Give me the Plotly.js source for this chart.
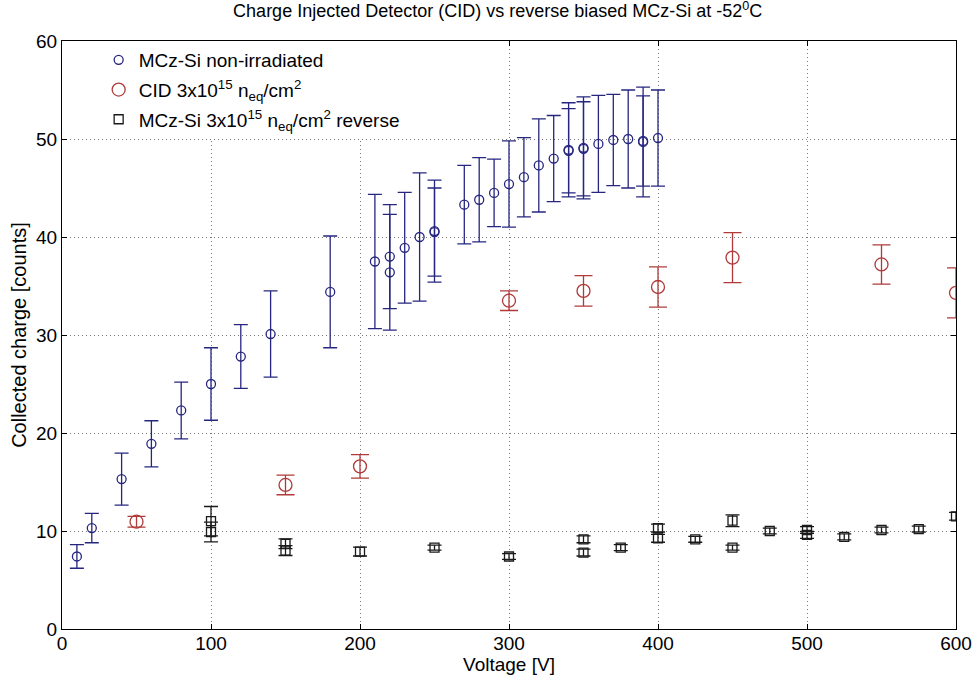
<!DOCTYPE html>
<html>
<head>
<meta charset="utf-8">
<script src="https://cdn.plot.ly/plotly-3.0.1.min.js"></script>
<style>html,body{margin:0;padding:0;background:#fff;}#chart{width:974px;height:682px;}</style>
</head>
<body>
<div id="chart"></div>
<script>
// MCz-Si non-irradiated
const blueV = [10,20,40,60,80,100,120,140,180,210,220,220,230,240,250,250,270,280,290,300,310,320,330,340,340,350,350,360,370,380,390,390,400];
const blueQ = [7.4,10.3,15.3,18.9,22.3,25.0,27.8,30.1,34.4,37.5,38.0,36.4,38.9,40.0,40.6,40.5,43.3,43.8,44.5,45.4,46.1,47.3,48.0,48.9,48.8,49.1,49.0,49.5,49.9,50.0,49.8,49.7,50.1];
const blueE = [1.2,1.5,2.65,2.35,2.9,3.7,3.25,4.4,5.7,6.85,5.3,5.9,5.65,6.55,5.2,4.5,4.0,4.3,3.45,4.4,4.05,4.75,4.4,4.8,4.3,5.2,4.8,4.95,4.65,5.0,4.6,5.6,4.9];
// CID 3x10^15
const redV = [50,150,200,300,350,400,450,550,600];
const redQ = [10.95,14.7,16.6,33.5,34.5,34.9,37.9,37.2,34.3];
const redE = [0.55,1.0,1.2,1.0,1.55,2.05,2.55,2.0,2.55];
// MCz-Si 3x10^15 reverse
const blackV = [100,100,150,150,200,250,300,350,350,375,400,400,425,450,450,475,500,500,525,550,575,600];
const blackQ = [11.0,9.9,8.7,8.0,7.9,8.3,7.4,9.15,7.8,8.3,10.3,9.25,9.15,11.05,8.3,10.0,10.1,9.6,9.4,10.1,10.2,11.5];
const blackE = [1.5,1.0,0.5,0.5,0.45,0.25,0.3,0.35,0.35,0.3,0.4,0.4,0.3,0.6,0.25,0.3,0.35,0.35,0.3,0.3,0.3,0.4];

const names = ['MCz-Si non-irradiated',
  'CID 3x10<sup>15</sup> n<sub>eq</sub>/cm<sup>2</sup>',
  'MCz-Si 3x10<sup>15</sup> n<sub>eq</sub>/cm<sup>2</sup> reverse'];
const tickVX = [0,100,200,300,400,500,600];
const tickVY = [0,10,20,30,40,50,60];

const blue = '#262680', red = '#b03a3a', black = '#1a1a1a';

const traces = [
  {x: blueV, y: blueQ, name: names[0], legendgroup: 'a', type: 'scatter', mode: 'markers',
   marker: {symbol: 'circle-open', size: 9, color: blue, line: {width: 1.3, color: blue}},
   error_y: {type: 'data', array: blueE, visible: true, color: blue, thickness: 1.3, width: 7}},
  {x: redV, y: redQ, name: names[1], legendgroup: 'b', type: 'scatter', mode: 'markers',
   marker: {symbol: 'circle-open', size: 13, color: red, line: {width: 1.3, color: red}},
   error_y: {type: 'data', array: redE, visible: true, color: red, thickness: 1.3, width: 9}},
  {x: blackV, y: blackQ, name: names[2], legendgroup: 'c', type: 'scatter', mode: 'markers',
   marker: {symbol: 'square-open', size: 9, color: black, line: {width: 1.3, color: black}},
   error_y: {type: 'data', array: blackE, visible: true, color: black, thickness: 1.3, width: 7}}
];

const font = {family: '"Liberation Sans", Arial, sans-serif', color: '#000'};
const f = s => Object.assign({size: s}, font);

const layout = {
  width: 974, height: 682,
  margin: {l: 62, r: 18, t: 41, b: 53, pad: 0},
  paper_bgcolor: '#fff', plot_bgcolor: '#fff',
  font: f(18),
  title: {text: 'Charge Injected Detector (CID) vs reverse biased MCz-Si at -52<sup>0</sup>C',
          font: f(18), x: 0.511, xanchor: 'center', y: 0.993, yanchor: 'top'},
  showlegend: true,
  legend: {x: 0.041, y: 1.0, xanchor: 'left', yanchor: 'top', bgcolor: '#fff', borderwidth: 0,
           font: f(19), tracegroupgap: 2, itemwidth: 30},
  xaxis: {range: [0, 600], tickvals: tickVX, ticks: 'inside', ticklen: 5,
          tickcolor: '#000', showline: true, linecolor: '#000', linewidth: 1, mirror: 'ticks',
          showgrid: true, gridcolor: '#777', griddash: '1px,3px', gridwidth: 1, zeroline: false,
          tickfont: f(19), ticklabelstandoff: -3,
          title: {text: 'Voltage [V]', font: f(19), standoff: 0}},
  yaxis: {range: [0, 60], tickvals: tickVY, ticks: 'inside', ticklen: 5,
          tickcolor: '#000', showline: true, linecolor: '#000', linewidth: 1, mirror: 'ticks',
          showgrid: true, gridcolor: '#777', griddash: '1px,3px', gridwidth: 1, zeroline: false,
          tickfont: f(19),
          title: {text: 'Collected charge [counts]', font: f(20), standoff: 4}}
};

Plotly.newPlot('chart', traces, layout, {staticPlot: true, displayModeBar: false});
</script>
</body>
</html>
